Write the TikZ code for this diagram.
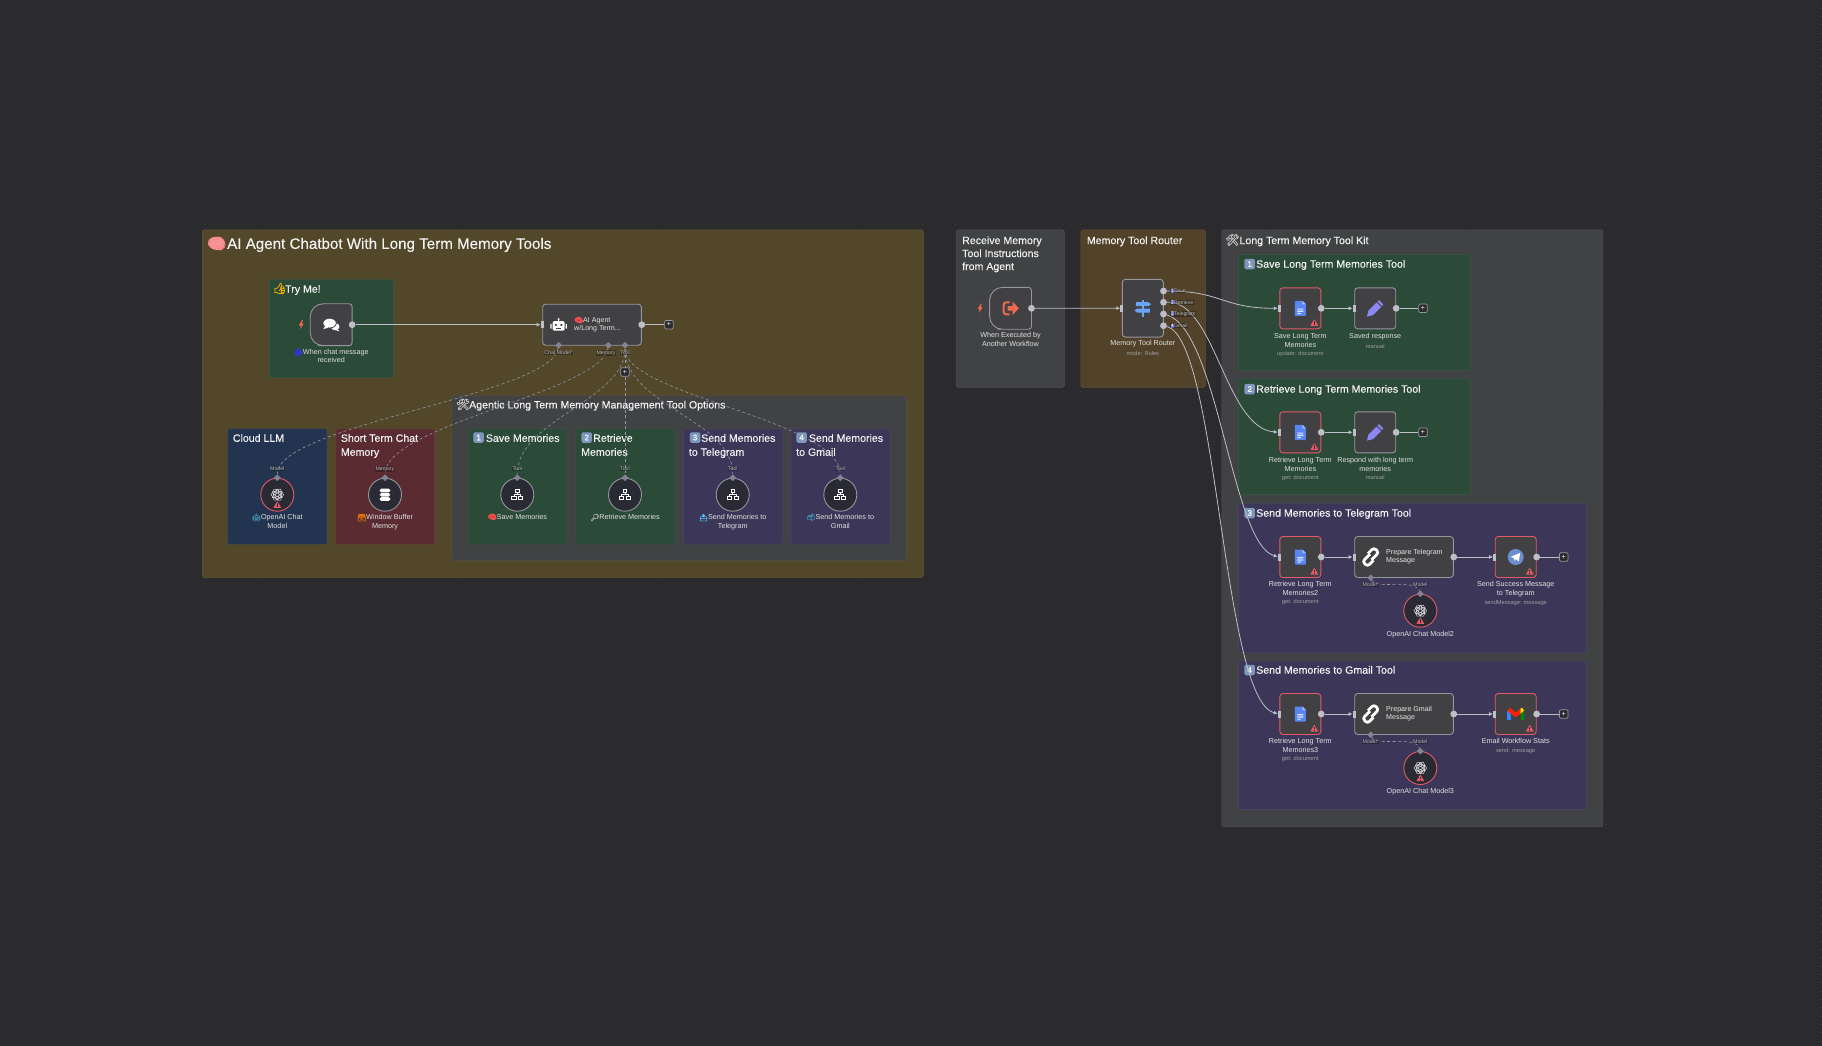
\documentclass[tikz,border=0pt]{standalone}
\usepackage{fontspec}
\setmainfont{Liberation Sans}
\newfontfamily\headfont[FakeBold=0.25]{Liberation Sans}
\newfontfamily\emojifont[FakeBold=1]{Noto Emoji}
\usepackage{xcolor}
\usetikzlibrary{arrows.meta, positioning, shapes.geometric}
\definecolor{canvas}{RGB}{43, 43, 45}
\definecolor{griddot}{RGB}{63, 63, 65}
\definecolor{stickyyellow}{RGB}{82, 71, 41}
\definecolor{stickybrown}{RGB}{82, 66, 41}
\definecolor{stickygreen}{RGB}{43, 74, 56}
\definecolor{stickynavy}{RGB}{34, 52, 79}
\definecolor{stickyred}{RGB}{90, 43, 48}
\definecolor{stickypurple}{RGB}{60, 54, 88}
\definecolor{stickygrey}{RGB}{65, 66, 68}
\definecolor{nodegrey}{RGB}{65, 65, 68}
\definecolor{nodeline}{RGB}{150, 150, 158}
\definecolor{tooldark}{RGB}{42, 42, 53}
\definecolor{warnred}{RGB}{226, 90, 104}
\definecolor{wiregrey}{RGB}{190, 190, 198}
\definecolor{portgrey}{RGB}{130, 130, 148}
\definecolor{keyblue}{RGB}{124, 151, 187}
\definecolor{boltorange}{RGB}{238, 105, 80}
\definecolor{docblue}{RGB}{90, 134, 245}
\definecolor{penviolet}{RGB}{139, 136, 244}
\definecolor{signblue}{RGB}{106, 164, 248}
\definecolor{brainpink}{RGB}{232, 165, 175}
\newcommand{\pxfont}[2]{\fontsize{#1}{#2}\selectfont}
\newcommand{\emo}[2]{{\emojifont\textcolor{#1}{#2}}}
\newcommand{\tinykey}[1]{{\setlength{\fboxsep}{.3pt}\colorbox{keyblue!70!blue}{\textcolor{white}{#1}}}}
\tikzset{
  warnicon/.pic={
    \fill[warnred, rounded corners=.6pt] (0,-3.6) -- (4,3.2) -- (-4,3.2) -- cycle;
    \draw[canvas, line width=.8pt] (0,-1.3) -- (0,1) (0,1.7) -- (0,2.4);
  },
  bolticon/.pic={
    \fill[boltorange] (.9,-4.6) -- (-2.5,.8) -- (-.4,.8) -- (-1,4.6) -- (2.5,-1.1) -- (.4,-1.1) -- (1.9,-4.6) -- cycle;
  },
  chaticon/.pic={
    \fill[white] (4,2) ellipse (4.3 and 3.6);
    \fill[white] (7,5) -- (8.2,6.6) -- (4.5,5.4) -- cycle;
    \draw[nodegrey, line width=.8pt, fill=white] (-1.6,-1.6) ellipse (6.7 and 4.9);
    \fill[white] (-6,1) -- (-7.8,4.4) -- (-3,3) -- cycle;
  },
  roboticon/.pic={
    \fill[white, rounded corners=1.5pt] (-6,-3.6) rectangle (6,6);
    \fill[white] (0,-5.6) circle (1.1);
    \fill[white] (-.4,-5) rectangle (.4,-3.5);
    \fill[white, rounded corners=.5pt] (-8.3,-1) rectangle (-7,4) (7,-1) rectangle (8.3,4);
    \fill[nodegrey] (-2.8,.3) circle (1.2) (2.8,.3) circle (1.2);
    \fill[nodegrey] (-2.6,3.4) rectangle (2.6,4.1);
  },
  exiticon/.pic={
    \draw[boltorange, line width=2pt, rounded corners=2.5pt] (-1,-6) -- (-6.8,-6) -- (-6.8,6) -- (-1,6);
    \fill[boltorange] (-3,-2.2) -- (2,-2.2) -- (2,-6.8) -- (8.3,0) -- (2,6.8) -- (2,2.2) -- (-3,2.2) -- cycle;
  },
  signicon/.pic={
    \fill[signblue] (-1,-8.3) rectangle (1,8.3);
    \fill[signblue] (-7,-6) -- (5.5,-6) -- (8.3,-4) -- (5.5,-2) -- (-7,-2) -- cycle;
    \fill[signblue] (7,.3) -- (-5.5,.3) -- (-8.3,2.3) -- (-5.5,4.3) -- (7,4.3) -- cycle;
  },
  docicon/.pic={
    \fill[docblue, rounded corners=.7pt] (-5.5,-7.5) -- (2,-7.5) -- (5.5,-4) -- (5.5,7.5) -- (-5.5,7.5) -- cycle;
    \fill[docblue!55!white] (2,-7.5) -- (5.5,-4) -- (2,-4) -- cycle;
    \fill[white!80!docblue] (-3,.2) rectangle (3,1.3) (-3,2.4) rectangle (3,3.5) (-3,4.6) rectangle (.5,5.7);
  },
  penicon/.pic={
    \fill[penviolet] (-8.3,8.3) -- (-2.3,6.8) -- (5.8,-1.3) -- (1.3,-5.8) -- (-6.8,2.3) -- cycle;
    \fill[penviolet, rounded corners=.6pt] (2.2,-6.8) -- (6.8,-2.2) -- (8.3,-3.7) -- (3.7,-8.3) -- cycle;
  },
  linkicon/.pic={
    \begin{scope}[rotate=45, line width=2.8pt, rounded corners=3pt]
      \draw[white] (1.5,-2.6) -- (-9,-2.6) -- (-9,4.4) -- (-.5,4.4);
      \draw[white] (-1.5,2.6) -- (9,2.6) -- (9,-4.4) -- (.5,-4.4);
    \end{scope}
  },
  knoticon/.pic={
    \foreach \a in {0,60,120} {
      \draw[white!70!nodeline, line width=.45pt, rotate=\a] (0,0) ellipse (6.4 and 3.6);
      \draw[white!70!nodeline, line width=.45pt, rotate=\a+30] (0,0) ellipse (5.6 and 1.6);
    }
    \fill[tooldark] (0,0) circle (1);
  },
  dbicon/.pic={
    \fill[white, rounded corners=1.6pt] (-5.3,-6.2) rectangle (5.3,-2.3) (-5.3,-1.7) rectangle (5.3,1.8) (-5.3,2.4) rectangle (5.3,6.2);
  },
  neticon/.pic={
    \draw[white, line width=.8pt] (-1.8,-5) rectangle (1.8,-2.2) (-5.5,1.8) rectangle (-1.3,5) (1.3,1.8) rectangle (5.5,5);
    \draw[white, line width=.8pt] (0,-2.2) -- (0,0) (-3.4,1.8) -- (-3.4,0) -- (3.4,0) -- (3.4,1.8);
  },
  telegramicon/.pic={
    \fill[cyan!40!blue!60!white] (0,0) circle (8);
    \fill[white] (-5,-.2) -- (4.6,-4.2) -- (3,4.2) -- (.1,2.1) -- (-1.2,3.6) -- (-1.9,1.2) -- cycle;
  },
  gmailicon/.pic={
    \fill[blue!60!cyan!80!white] (-8.3,-3.5) rectangle (-5,6.3);
    \fill[green!55!black] (5,-3.5) rectangle (8.3,6.3);
    \fill[red!75!orange] (-8.3,-3.5) -- (-6,-6.3) -- (0,-1.5) -- (6,-6.3) -- (5,-.5) -- (0,3.2) -- (-5,-.5) -- cycle;
    \fill[yellow!85!orange] (5,-.5) -- (5,-5.5) -- (6.3,-6.3) -- (8.3,-3.5) -- cycle;
  }
}
\begin{document}
\begin{tikzpicture}[
  x=1pt, y=-1pt,
  griddots/.style={griddot, line width=1pt, dash pattern=on 1pt off 7.33pt},
  sticky/.style n args={3}{rectangle, rounded corners=1.5pt, draw=#1!92!white, line width=.5pt,
              fill=#1, anchor=north west, minimum width=#2pt, minimum height=#3pt, inner sep=0},
  headline/.style={font=\headfont\pxfont{10.6}{14}, text=white!95!black, anchor=north west,
              align=left, inner sep=0},
  keycap/.style={rectangle, rounded corners=1.5pt, fill=keyblue, text=white, minimum size=10.5pt,
              inner sep=0, font=\headfont\pxfont{8}{8}},
  wfnode/.style={rectangle, rounded corners=3pt, draw=#1, line width=.9pt, fill=nodegrey,
              minimum width=41pt, minimum height=41pt, inner sep=0},
  wfnode/.default=nodeline,
  trigbody/.style={draw=nodeline, line width=.9pt, fill=nodegrey},
  toolnode/.style={circle, draw=#1, line width=.9pt, fill=tooldark, minimum size=33pt, inner sep=0},
  toolnode/.default=nodeline,
  nodelbl/.style={font=\pxfont{7.2}{8.6}, text=white!88!black, align=center, inner sep=0},
  sublbl/.style={font=\pxfont{5.7}{7}, text=white!62!black, align=center, inner sep=0},
  bodytxt/.style={font=\pxfont{7.1}{8.2}, text=white!90!black, align=left, anchor=west, inner sep=0},
  portlbl/.style={font=\pxfont{5.2}{5.6}, text=white!72!black, fill=black!75!stickygrey, fill opacity=.35,
              text opacity=1, inner sep=.3pt},
  outdot/.style={circle, fill=wiregrey, minimum size=6.8pt, inner sep=0},
  inbar/.style={rectangle, fill=wiregrey, minimum width=2.8pt, minimum height=7pt, inner sep=0},
  port/.style={diamond, fill=portgrey, minimum size=7pt, inner sep=0},
  plusbox/.style={rectangle, rounded corners=1.2pt, draw=nodeline, line width=.7pt, fill=canvas,
              text=white, minimum size=8.5pt, inner sep=0, font=\pxfont{7}{7}},
  wire/.style={-{Latex[length=4pt, width=4pt]}, line width=.8pt, draw=wiregrey},
  stub/.style={line width=.8pt, draw=wiregrey},
  subwire/.style={dash pattern=on 3pt off 2.5pt, line width=.6pt, draw=portgrey!85!white}
]
  \useasboundingbox (0,0) rectangle (1822,1046);
  \fill[canvas] (0,0) rectangle (1822,1046);
  \foreach \r in {1,...,125}
    \draw[griddots] (5.5,{8.33*\r}) -- (1822,{8.33*\r});

  %% Large groups
  \node[sticky={stickyyellow}{721}{347.3}] (maingroup) at (202,229.7) {};
  \node[sticky={stickygrey}{454.3}{164.3}] (agenticgroup) at (451.7,395.7) {};
  \node[sticky={stickygrey}{108}{157.3}] (receivegroup) at (956,229.7) {};
  \node[sticky={stickybrown}{124.3}{157.3}] (routergroup) at (1080.7,229.7) {};
  \node[sticky={stickygrey}{381}{597}] (kitgroup) at (1221.7,229.7) {};

  %% Smaller notes
  \node[sticky={stickygreen}{124}{98}] (tryme) at (269,279.3) {};
  \node[sticky={stickynavy}{99}{115.3}] (cloudnote) at (227.7,428.6) {};
  \node[sticky={stickyred}{98.6}{115.3}] (shortnote) at (335.7,428.6) {};
  \node[sticky={stickygreen}{99}{115.3}] (savenote) at (467.7,428.6) {};
  \node[sticky={stickygreen}{99}{115.3}] (retrievenote) at (575.7,428.6) {};
  \node[sticky={stickypurple}{99.4}{115.3}] (telegramnote) at (683.3,428.6) {};
  \node[sticky={stickypurple}{99.3}{115.3}] (gmailnote) at (790.7,428.6) {};
  \node[sticky={stickygreen}{231.7}{116}] (kitsave) at (1238.3,254.3) {};
  \node[sticky={stickygreen}{231.7}{115.6}] (kitretrieve) at (1238.3,378.7) {};
  \node[sticky={stickypurple}{347.7}{148.7}] (kittelegram) at (1238.3,503.3) {};
  \node[sticky={stickypurple}{347.7}{148.6}] (kitgmail) at (1238.3,660.7) {};

  %% Headlines
  \fill[brainpink] (216.7,243.5) ellipse (8 and 6.4);
  \node[font=\pxfont{15.5}{15.5}, inner sep=0] (brain) at (216.7,243.5) {\emo{pink!70!red}{🧠}};
  \node[headline, font=\headfont\pxfont{15.15}{18}] (maintitle) at (227,237.7) {AI Agent Chatbot With Long Term Memory Tools};
  \node[font=\pxfont{11}{11}, inner sep=0] (thumb) at (279.7,288.5) {\emo{orange!60!yellow}{👍}};
  \node[headline] (trytitle) at (285,285.2) {Try Me!};
  \node[headline] (cloudtitle) at (232.7,433.9) {Cloud LLM};
  \node[headline] (shorttitle) at (340.7,433.9) {Short Term Chat\\Memory};
  \node[font=\pxfont{11}{11}, inner sep=0] (agentichammer) at (463,404.5) {\emo{white!75!black}{🛠}};
  \node[headline] (agentictitle) at (469,400.6) {Agentic Long Term Memory Management Tool Options};
  \node[keycap] (key1) at (478.7,437.5) {1};
  \node[headline] (savetitle) at (485.7,433.9) {Save Memories};
  \node[keycap] (key2) at (586.7,437.5) {2};
  \node[headline] (retrievetitle) at (581,433.9) {\hspace*{12pt}Retrieve\\Memories};
  \node[keycap] (key3) at (695,437.5) {3};
  \node[headline] (telegramtitle) at (688.7,433.9) {\hspace*{12.3pt}Send Memories\\to Telegram};
  \node[keycap] (key4) at (801.7,437.5) {4};
  \node[headline] (gmailtitle) at (796,433.9) {\hspace*{12.7pt}Send Memories\\to Gmail};
  \node[headline, font=\headfont\pxfont{10.6}{13}] (receivetitle) at (962,236.2) {Receive Memory\\Tool Instructions\\from Agent};
  \node[headline] (routertitle) at (1086.7,236.2) {Memory Tool Router};
  \node[font=\pxfont{11}{11}, inner sep=0] (kithammer) at (1232.5,240) {\emo{white!75!black}{🛠}};
  \node[headline] (kittitle) at (1239.3,236.2) {Long Term Memory Tool Kit};
  \node[keycap] (kitkey1) at (1249.7,264) {1};
  \node[headline] (kitsavetitle) at (1256,259.8) {Save Long Term Memories Tool};
  \node[keycap] (kitkey2) at (1249.7,389) {2};
  \node[headline] (kitretrievetitle) at (1256,384.8) {Retrieve Long Term Memories Tool};
  \node[keycap] (kitkey3) at (1249.7,513) {3};
  \node[headline] (kittelegramtitle) at (1256,508.8) {Send Memories to Telegram Tool};
  \node[keycap] (kitkey4) at (1249.7,670) {4};
  \node[headline] (kitgmailtitle) at (1256,665.8) {Send Memories to Gmail Tool};

  %% Workflow nodes
  \node[wfnode, draw=none, fill=none] (chat) at (331.2,324.7) {};
  \node[wfnode] (agent) at (592,324.7) [minimum width=98.6pt] {};
  \node[wfnode, draw=none, fill=none] (exec) at (1010.5,308.3) {};
  \node[wfnode] (router) at (1142.8,308.2) [minimum height=57.7pt] {};
  \node[wfnode=warnred] (savedoc) at (1300.3,308.3) {};
  \node[wfnode] (savedresp) at (1375.2,308.3) {};
  \node[wfnode=warnred] (retrievedoc) at (1300.3,432.3) {};
  \node[wfnode] (respond) at (1375.2,432.3) {};
  \node[wfnode=warnred] (tgdoc) at (1300.3,557) {};
  \node[wfnode] (tgprep) at (1404,557) [minimum width=98.6pt] {};
  \node[wfnode=warnred] (tgsend) at (1515.7,557) {};
  \node[wfnode=warnred] (gmdoc) at (1300.3,714) {};
  \node[wfnode] (gmprep) at (1404,714) [minimum width=98.6pt] {};
  \node[wfnode=warnred] (gmsend) at (1515.7,714) {};
  \draw[trigbody, rounded corners=13pt] (chat.north) -- (chat.north west) -- (chat.south west) -- (chat.south)
    [rounded corners=3pt] -- (chat.south east) -- (chat.north east) -- cycle;
  \draw[trigbody, rounded corners=13pt] (exec.north) -- (exec.north west) -- (exec.south west) -- (exec.south)
    [rounded corners=3pt] -- (exec.south east) -- (exec.north east) -- cycle;

  %% Sub nodes
  \node[toolnode=warnred] (cloudmodel) at (277.3,494.7) {};
  \node[toolnode] (buffer) at (385,494.7) {};
  \foreach \nm/\xx in {savetool/517.3, retrievetool/625, telegramtool/732.7, gmailtool/840.3} {
    \node[toolnode] (\nm) at (\xx,494.7) {};
    \pic at (\nm) {neticon};
    \node[port] (\nm port) at (\nm.north) {};
  }
  \node[toolnode=warnred] (tgmodel) at (1420.3,610.7) {};
  \node[toolnode=warnred] (gmmodel) at (1420.3,768) {};
  \foreach \nm in {cloudmodel, tgmodel, gmmodel} {
    \pic at (\nm) {knoticon};
    \pic at ([yshift=-10pt]\nm) {warnicon};
  }
  \pic at (buffer) {dbicon};
  \node[port] (cloudport) at (cloudmodel.north) {};
  \node[port] (bufferport) at (buffer.north) {};
  \node[port] (tgmodelport) at (tgmodel.north) {};
  \node[port] (gmmodelport) at (gmmodel.north) {};

  %% Icons
  \pic at ([xshift=-30pt]chat) {bolticon};
  \pic at (chat) {chaticon};
  \pic at ([xshift=-33.4pt]agent) {roboticon};
  \pic at ([xshift=-30.5pt]exec) {bolticon};
  \pic at (exec) {exiticon};
  \pic at (router) {signicon};
  \foreach \nm in {savedoc, retrievedoc, tgdoc, gmdoc} {
    \pic at (\nm) {docicon};
    \pic at ([xshift=14pt, yshift=-14.3pt]\nm) {warnicon};
  }
  \pic at (savedresp) {penicon};
  \pic at (respond) {penicon};
  \pic at ([xshift=-33.3pt]tgprep) {linkicon};
  \pic at ([xshift=-33.3pt]gmprep) {linkicon};
  \pic at (tgsend) {telegramicon};
  \pic at (gmsend) {gmailicon};
  \pic at ([xshift=14pt, yshift=-14.3pt]tgsend) {warnicon};
  \pic at ([xshift=14pt, yshift=-14.3pt]gmsend) {warnicon};

  %% Text inside wide nodes
  \node[bodytxt] (agenttxt) at (574,324.7) {\emo{red!70!white}{🧠}AI Agent\\w/Long Term...};
  \node[bodytxt] (tgpreptxt) at (1386,557) {Prepare Telegram\\Message};
  \node[bodytxt] (gmpreptxt) at (1386,714) {Prepare Gmail\\Message};

  %% Labels under the nodes
  \node[nodelbl, below=2.2pt of chat] (chatlbl) {\emo{blue!80!white}{🤖}When chat message\\received};
  \node[nodelbl, below=2pt of cloudmodel] (cloudlbl) {\emo{cyan!60!black}{🤖}OpenAI Chat\\Model};
  \node[nodelbl, below=2pt of buffer] (bufferlbl) {\emo{orange}{🗃}Window Buffer\\Memory};
  \node[nodelbl, below=2pt of savetool] (savelbl) {\emo{red!70!white}{🧠}Save Memories};
  \node[nodelbl, below=2pt of retrievetool] (retrievelbl) {\emo{white!70!black}{🔎}Retrieve Memories};
  \node[nodelbl, below=2pt of telegramtool] (telegramlbl) {\emo{cyan!70!white}{📤}Send Memories to\\Telegram};
  \node[nodelbl, below=2pt of gmailtool] (gmaillbl) {\emo{cyan!70!black}{📫}Send Memories to\\Gmail};
  \node[nodelbl, below=3.2pt of exec] (execlbl) {When Executed by\\Another Workflow};
  \node[nodelbl, below=3pt of router] (routerlbl) {Memory Tool Router};
  \node[sublbl, below=3.5pt of routerlbl] (routersub) {mode: Rules};
  \node[nodelbl, below=4pt of savedoc] (savedoclbl) {Save Long Term\\Memories};
  \node[sublbl, below=3.5pt of savedoclbl] (savedocsub) {update: document};
  \node[nodelbl, below=4pt of savedresp] (savedresplbl) {Saved response};
  \node[sublbl, below=3.5pt of savedresplbl] (savedrespsub) {manual};
  \node[nodelbl, below=4pt of retrievedoc] (retrievedoclbl) {Retrieve Long Term\\Memories};
  \node[sublbl, below=3.5pt of retrievedoclbl] (retrievedocsub) {get: document};
  \node[nodelbl, below=4pt of respond] (respondlbl) {Respond with long term\\memories};
  \node[sublbl, below=3.5pt of respondlbl] (respondsub) {manual};
  \node[nodelbl, below=3.5pt of tgdoc] (tgdoclbl) {Retrieve Long Term\\Memories2};
  \node[sublbl, below=3.5pt of tgdoclbl] (tgdocsub) {get: document};
  \node[nodelbl, below=3.5pt of tgsend] (tgsendlbl) {Send Success Message\\to Telegram};
  \node[sublbl, below=3.5pt of tgsendlbl] (tgsendsub) {sendMessage: message};
  \node[nodelbl, below=3.6pt of tgmodel] (tgmodellbl) {OpenAI Chat Model2};
  \node[nodelbl, below=3.5pt of gmdoc] (gmdoclbl) {Retrieve Long Term\\Memories3};
  \node[sublbl, below=3.5pt of gmdoclbl] (gmdocsub) {get: document};
  \node[nodelbl, below=3.5pt of gmsend] (gmsendlbl) {Email Workflow Stats};
  \node[sublbl, below=4pt of gmsendlbl] (gmsendsub) {send: message};
  \node[nodelbl, below=3.6pt of gmmodel] (gmmodellbl) {OpenAI Chat Model3};

  %% Ports on the nodes
  \foreach \nm in {chat, agent, exec, savedoc, savedresp, retrievedoc, respond, tgdoc, tgprep, tgsend, gmdoc, gmprep, gmsend}
    \node[outdot] (\nm out) at (\nm.east) {};
  \foreach \nm in {agent, router, savedoc, savedresp, retrievedoc, respond, tgdoc, tgprep, tgsend, gmdoc, gmprep, gmsend}
    \node[inbar] (\nm in) at (\nm.west) {};
  \node[outdot] (routersave) at (1163.5,291) {};
  \node[outdot] (routerret) at (1163.5,302.3) {};
  \node[outdot] (routertg) at (1163.5,314) {};
  \node[outdot] (routergm) at (1163.5,325.7) {};
  \node[port] (agentmodel) at (558.7,345.3) {};
  \node[port] (agentmemory) at (608.3,345.3) {};
  \node[port] (agenttool) at (625,345.3) {};
  \node[port] (tgprepmodel) at (1370.7,577.7) {};
  \node[port] (gmprepmodel) at (1370.7,734.7) {};
  \coordinate (agentplusat) at (669,324.7);

  %% Main flow
  \draw[wire] (chatout) -- (agentin);
  \draw[wire] (execout) -- (routerin);
  \draw[wire] (savedocout) -- (savedrespin);
  \draw[wire] (retrievedocout) -- (respondin);
  \draw[wire] (tgdocout) -- (tgprepin);
  \draw[wire] (tgprepout) -- (tgsendin);
  \draw[wire] (gmdocout) -- (gmprepin);
  \draw[wire] (gmprepout) -- (gmsendin);

  %% Router branches
  \draw[wire] (routersave) .. controls (1222,291) and (1222,308.3) .. (savedocin);
  \draw[wire] (routerret) .. controls (1215,300) and (1225,428) .. (retrievedocin);
  \draw[wire] (routertg) .. controls (1218,330) and (1232,545) .. (tgdocin);
  \draw[wire] (routergm) .. controls (1218,340) and (1222,700) .. (gmdocin);

  %% Sub node connections
  \draw[subwire] (agentmodel) .. controls (550,395) and (277,425) .. (cloudport);
  \draw[subwire] (agentmemory) .. controls (600,392) and (385,425) .. (bufferport);
  \draw[subwire] (agenttool) .. controls (625,400) and (517,420) .. (savetoolport);
  \draw[subwire] (agenttool) -- (retrievetoolport);
  \draw[subwire] (agenttool) .. controls (625,405) and (733,420) .. (telegramtoolport);
  \draw[subwire] (agenttool) .. controls (625,395) and (840,420) .. (gmailtoolport);
  \draw[subwire] (tgprepmodel) .. controls (1376,590) and (1415,578) .. (tgmodelport);
  \draw[subwire] (gmprepmodel) .. controls (1376,747) and (1415,735) .. (gmmodelport);

  %% Plus boxes
  \node[plusbox] (agentplus) at (agentplusat) {+};
  \node[plusbox] (toolplus) at (625,372) {+};
  \node[plusbox] (saveplus) at (1423,308.3) {+};
  \node[plusbox] (retrieveplus) at (1423,432.3) {+};
  \node[plusbox] (tgplus) at (1563.7,557) {+};
  \node[plusbox] (gmplus) at (1563.7,714) {+};
  \draw[stub] (agentout) -- (agentplus);
  \draw[stub] (savedrespout) -- (saveplus);
  \draw[stub] (respondout) -- (retrieveplus);
  \draw[stub] (tgsendout) -- (tgplus);
  \draw[stub] (gmsendout) -- (gmplus);

  %% Port labels
  \node[portlbl] (agentmodeltag) at (558.7,353) {Chat Model\textcolor{warnred}{*}};
  \node[portlbl] (agentmemorytag) at (606,353) {Memory};
  \node[portlbl] (agenttooltag) at (625,353) {Tool};
  \node[portlbl] (cloudtag) at (277.3,469) {Model};
  \node[portlbl] (buffertag) at (385,469) {Memory};
  \foreach \nm/\xx in {savetool/517.3, retrievetool/625, telegramtool/732.7, gmailtool/840.3}
    \node[portlbl] (\nm tag) at (\xx,469) {Tool};
  \node[portlbl] (tgpreptag) at (1370.7,585) {Model\textcolor{warnred}{*}};
  \node[portlbl] (tgmodeltag) at (1420.3,585) {Model};
  \node[portlbl] (gmpreptag) at (1370.7,742) {Model\textcolor{warnred}{*}};
  \node[portlbl] (gmmodeltag) at (1420.3,742) {Model};
  \node[portlbl, anchor=west] (savetag) at (1170,291) {\tinykey{1}Save};
  \node[portlbl, anchor=west] (rettag) at (1170,302.3) {\tinykey{2}Retrieve};
  \node[portlbl, anchor=west] (tgtag) at (1170,314) {\tinykey{3}Telegram};
  \node[portlbl, anchor=west] (gmtag) at (1170,325.7) {\tinykey{4}Gmail};
\end{tikzpicture}
\end{document}
